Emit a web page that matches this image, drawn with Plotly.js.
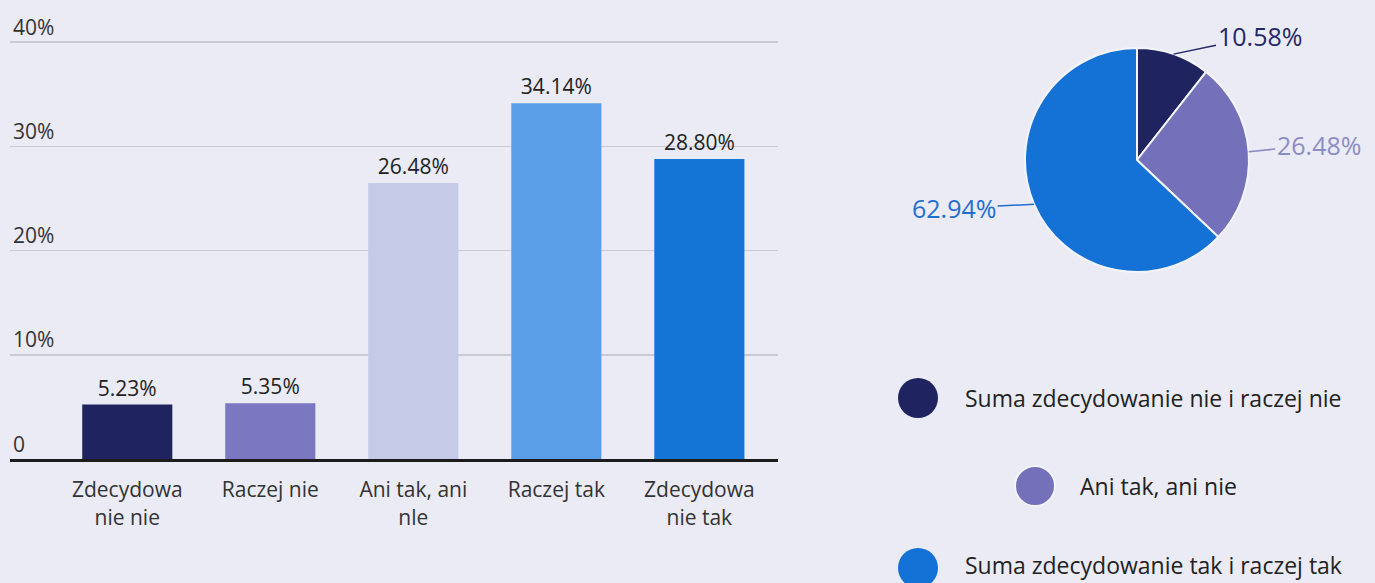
<!DOCTYPE html>
<html>
<head>
<meta charset="utf-8">
<script src="https://cdn.plot.ly/plotly-3.0.1.min.js"></script>
<style>html,body{margin:0;padding:0;background:#eaebf4;}</style>
</head>
<body>
<div id="chart" style="width:1375px;height:583px;"></div>
<script>
// ---- Data ----
const barCategories = ["Zdecydowa<br>nie nie", "Raczej nie", "Ani tak, ani<br>nle", "Raczej tak", "Zdecydowa<br>nie tak"];
const barValues = [5.23, 5.35, 26.48, 34.14, 28.80];
const barColors = ["#1f2360", "#7b77c0", "#c5cbe6", "#5b9fe8", "#1475d6"];

const yTickVals = [0, 10, 20, 30, 40];
const yTickText = ["0", "10%", "20%", "30%", "40%"];

const pieLabels = ["Suma zdecydowanie nie i raczej nie", "Ani tak, ani nie", "Suma zdecydowanie tak i raczej tak"];
const pieValues = [10.58, 26.48, 62.94];
const pieColors = ["#1f2360", "#7470b9", "#1472d6"];
const pieLabelColors = ["#23286b", "#8d8cc4", "#1f6fcf"];

// ---- Layout helpers (style only) ----
const W = 1375, H = 583;
const FONT = "Open Sans, Noto Sans, sans-serif";
const pieCx = 1137, pieCy = 160, pieR = 112;
const labelOffsets = [[86, -18], [70, -7], [-80, 4]];
const legendPos = [[918, 398, 963, 398], [1035, 486, 1078, 486], [918, 568, 963, 565]];

const barTrace = {
  type: "bar",
  x: barCategories,
  y: barValues,
  marker: { color: barColors },
  text: barValues.map(v => v.toFixed(2) + "%"),
  textposition: "outside",
  textfont: { family: FONT, size: 21, color: "#222" },
  cliponaxis: false,
  hoverinfo: "x+y",
  showlegend: false,
  xaxis: "x", yaxis: "y"
};

const pieTrace = {
  type: "pie",
  labels: pieLabels,
  values: pieValues,
  marker: { colors: pieColors, line: { color: "#f4f5fb", width: 2 } },
  sort: false,
  direction: "clockwise",
  rotation: 0,
  textinfo: "none",
  showlegend: false,
  domain: { x: [(pieCx - pieR) / W, (pieCx + pieR) / W], y: [1 - (pieCy + pieR) / H, 1 - (pieCy - pieR) / H] }
};

// Pie outside labels with leader lines, positioned from the data values
const total = pieValues.reduce((a, b) => a + b, 0);
const annotations = [];
let cum = 0;
pieValues.forEach((v, i) => {
  const mid = (cum + v / 2) / total * 2 * Math.PI;
  cum += v;
  const px = pieCx + pieR * Math.sin(mid);
  const py = pieCy - pieR * Math.cos(mid);
  annotations.push({
    xref: "paper", yref: "paper",
    x: px / W, y: 1 - py / H,
    text: v.toFixed(2) + "%",
    showarrow: true, arrowhead: 0, arrowwidth: 1.5,
    arrowcolor: pieLabelColors[i],
    ax: labelOffsets[i][0], ay: labelOffsets[i][1],
    font: { family: FONT, size: 25, color: pieLabelColors[i] }
  });
});

// Legend (large circle swatches + labels)
const shapes = [];
pieLabels.forEach((lab, i) => {
  const [cx, cy, tx, ty] = legendPos[i];
  shapes.push({
    type: "circle", xref: "paper", yref: "paper",
    xsizemode: "pixel", ysizemode: "pixel",
    xanchor: cx / W, yanchor: 1 - cy / H,
    x0: -20, x1: 20, y0: -20, y1: 20,
    fillcolor: pieColors[i],
    line: i === 1 ? { color: "#f3f4fa", width: 2 } : { width: 0 }
  });
  annotations.push({
    xref: "paper", yref: "paper",
    x: tx / W, y: 1 - ty / H,
    xanchor: "left", yanchor: "middle",
    text: lab, showarrow: false,
    font: { family: FONT, size: 23, color: "#222" }
  });
});

const yBottom = 459, pxPerUnit = 10.42, yMax = 43.6;
const layout = {
  width: W, height: H,
  margin: { l: 0, r: 0, t: 0, b: 0 },
  paper_bgcolor: "#eaebf4",
  plot_bgcolor: "#eaebf4",
  font: { family: FONT, color: "#222" },
  bargap: 0.37,
  xaxis: {
    domain: [10 / W, 778 / W],
    range: [-0.82, 4.55],
    showgrid: false,
    showline: true, linecolor: "#1c1c1c", linewidth: 3,
    ticks: "", ticklen: 0,
    ticklabelstandoff: 10,
    tickfont: { family: FONT, size: 21, color: "#333" },
    fixedrange: true
  },
  yaxis: {
    domain: [(H - yBottom) / H, (H - (yBottom - yMax * pxPerUnit)) / H],
    range: [0, yMax],
    tickvals: yTickVals, ticktext: yTickText,
    ticklabelposition: "inside top",
    tickfont: { family: FONT, size: 21, color: "#333" },
    showgrid: true, gridcolor: "#c9cad6", gridwidth: 1.5,
    zeroline: false, showline: false, ticks: "",
    fixedrange: true
  },
  shapes: shapes,
  annotations: annotations
};

Plotly.newPlot("chart", [barTrace, pieTrace], layout, { displayModeBar: false, staticPlot: true });
</script>
</body>
</html>
